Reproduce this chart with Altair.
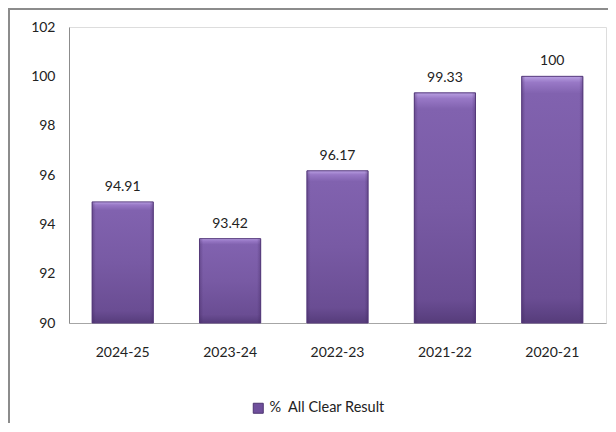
import altair as alt
import pandas as pd

years = ["2024-25", "2023-24", "2022-23", "2021-22", "2020-21"]
values = [94.91, 93.42, 96.17, 99.33, 100]
series = ["%\u00a0\u00a0All Clear Result"] * 5
y_ticks = [90, 92, 94, 96, 98, 100, 102]

df = pd.DataFrame({"year": years, "value": values, "series": series})
df["label"] = [f"{v:g}" for v in values]

FONT = "Lato"

xenc = alt.X("year:N", sort=years, title=None,
             scale=alt.Scale(paddingInner=0.43, paddingOuter=0.215),
             axis=alt.Axis(labelAngle=0, tickSize=0, labelPadding=22, labelFontSize=14,
                           labelFont=FONT, labelColor="#222", domainColor="#a6a6a6"))
yenc = alt.Y("value:Q", title=None,
             scale=alt.Scale(domain=[90, 102], nice=False, clamp=True),
             axis=alt.Axis(values=y_ticks, grid=False, tickSize=0, labelPadding=14,
                           labelFontSize=14, labelFont=FONT, labelColor="#222",
                           domainColor="#8c8c8c"))

base = alt.Chart(df)

legend_bars = base.mark_bar(opacity=1).encode(
    x=xenc, y=yenc,
    color=alt.Color("series:N", title=None,
                    scale=alt.Scale(range=["#6F4F9C"]),
                    legend=alt.Legend(orient="none", legendX=182, legendY=374,
                                      symbolType="square", symbolSize=100,
                                      labelFontSize=14.5, labelFont=FONT, labelColor="#222",
                                      symbolStrokeColor="#4d3570", symbolStrokeWidth=1))
)

grad = alt.Gradient(
    gradient="linear", x1=0, x2=0, y1=0, y2=1,
    stops=[
        alt.GradientStop(color="#B9A0E2", offset=0),
        alt.GradientStop(color="#9878C6", offset=0.025),
        alt.GradientStop(color="#8162AF", offset=0.07),
        alt.GradientStop(color="#785AA4", offset=0.5),
        alt.GradientStop(color="#6A4D93", offset=0.9),
        alt.GradientStop(color="#5E4385", offset=0.96),
        alt.GradientStop(color="#563C7A", offset=1),
    ],
)

bars = base.mark_bar(fill=grad, stroke="#5A3F80", strokeWidth=1).encode(x=xenc, y=yenc)

side_shade = alt.Gradient(
    gradient="linear", x1=0, x2=1, y1=0, y2=0,
    stops=[
        alt.GradientStop(color="rgba(60,35,90,0.35)", offset=0),
        alt.GradientStop(color="rgba(60,35,90,0)", offset=0.06),
        alt.GradientStop(color="rgba(60,35,90,0)", offset=0.94),
        alt.GradientStop(color="rgba(60,35,90,0.35)", offset=1),
    ],
)
shade = base.mark_bar(fill=side_shade).encode(x=xenc, y=yenc)

labels = base.mark_text(baseline="bottom", dy=-8, fontSize=14, font=FONT, color="#222").encode(
    x=xenc, y=yenc, text="label:N"
)

frame_left = alt.Chart(df).mark_rule(color="#8c8c8c", strokeWidth=2).encode(
    x=alt.value(-60), y=alt.value(-19), y2=alt.value(420)
)
frame_top = alt.Chart(df).mark_rule(color="#8c8c8c", strokeWidth=2).encode(
    x=alt.value(-61), x2=alt.value(560), y=alt.value(-18)
)

chart = alt.layer(legend_bars, bars, shade, labels, frame_left, frame_top).properties(
    width=537, height=296,
    autosize=alt.AutoSizeParams(type="none"),
    padding={"left": 61, "top": 19, "right": 2, "bottom": 100},
).configure_view(stroke=None).configure(background="white")

chart.save("out.html", embed_options={"renderer": "svg", "actions": False})
